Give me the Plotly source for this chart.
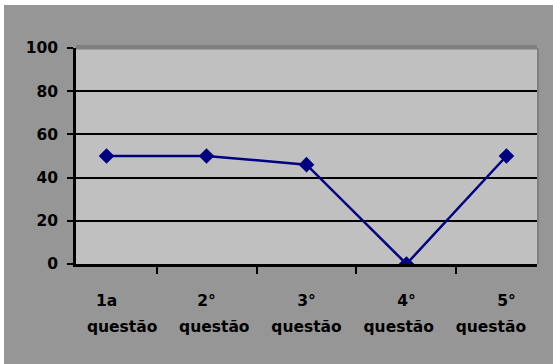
import plotly.graph_objects as go

# Answers per question (%)
categories = ["1a questão", "2° questão", "3° questão", "4° questão", "5° questão"]
values = [50, 50, 46, 0, 50]
y_ticks = [0, 20, 40, 60, 80, 100]

first_lines = [c.split(" ")[0] for c in categories]
second_lines = [c.split(" ", 1)[1] for c in categories]

NAVY = "#000080"
OUTER = "#969696"
PLOT_BG = "#c0c0c0"
BORDER = "#808080"
tick_font = dict(family="DejaVu Sans", size=15.5, color="black", weight="bold")

fig = go.Figure()
fig.add_trace(go.Scatter(
    x=categories, y=values, mode="lines+markers",
    line=dict(color=NAVY, width=2.5),
    marker=dict(symbol="diamond", size=12, color=NAVY),
    showlegend=False, hoverinfo="skip",
))
# carrier for the second label row (no visible marks)
fig.add_trace(go.Scatter(
    x=list(range(len(categories))), y=values, xaxis="x2", mode="markers",
    marker=dict(opacity=0), showlegend=False, hoverinfo="skip",
))

fig.update_layout(
    width=553, height=364,
    margin=dict(l=76, r=16, t=48, b=100),
    paper_bgcolor=OUTER, plot_bgcolor=PLOT_BG,
    xaxis=dict(
        type="category", categoryorder="array", categoryarray=categories,
        tickvals=categories, ticktext=first_lines,
        tickson="boundaries", ticks="outside", ticklen=7, tickwidth=2, tickcolor="black",
        showline=True, linecolor="black", linewidth=2.5,
        showgrid=False, tickfont=tick_font, ticklabelstandoff=21,
    ),
    xaxis2=dict(
        overlaying="x", anchor="y", side="bottom",
        range=[-0.5, len(categories) - 0.5],
        tickvals=list(range(len(categories))), ticktext=second_lines,
        ticks="", showline=False, showgrid=False, zeroline=False,
        tickfont=tick_font, ticklabelstandoff=51,
    ),
    yaxis=dict(
        range=[0, 100], tickvals=y_ticks,
        ticks="outside", ticklen=6, tickwidth=2, tickcolor="black",
        showline=True, linecolor="black", linewidth=2.5,
        showgrid=True, gridcolor="black", gridwidth=2, zeroline=False,
        tickfont=tick_font, ticklabelstandoff=6,
    ),
    shapes=[
        # plot-area border along the top and right edges
        dict(type="rect", xref="paper", yref="paper", x0=0, x1=1,
             ysizemode="pixel", yanchor=1, y0=-1.5, y1=3,
             fillcolor=BORDER, line=dict(width=0), layer="above"),
        dict(type="rect", xref="paper", yref="paper", y0=0, y1=1,
             xsizemode="pixel", xanchor=1, x0=0, x1=2,
             fillcolor=BORDER, line=dict(width=0), layer="above"),
        # white page edge along the top and left
        dict(type="rect", xref="paper", yref="paper", x0=-1, x1=2,
             ysizemode="pixel", yanchor=1, y0=43, y1=60,
             fillcolor="white", line=dict(width=0), layer="above"),
        dict(type="rect", xref="paper", yref="paper", y0=-1, y1=2,
             xsizemode="pixel", xanchor=0, x0=-90, x1=-72,
             fillcolor="white", line=dict(width=0), layer="above"),
    ],
)

fig.write_html("out.html")
